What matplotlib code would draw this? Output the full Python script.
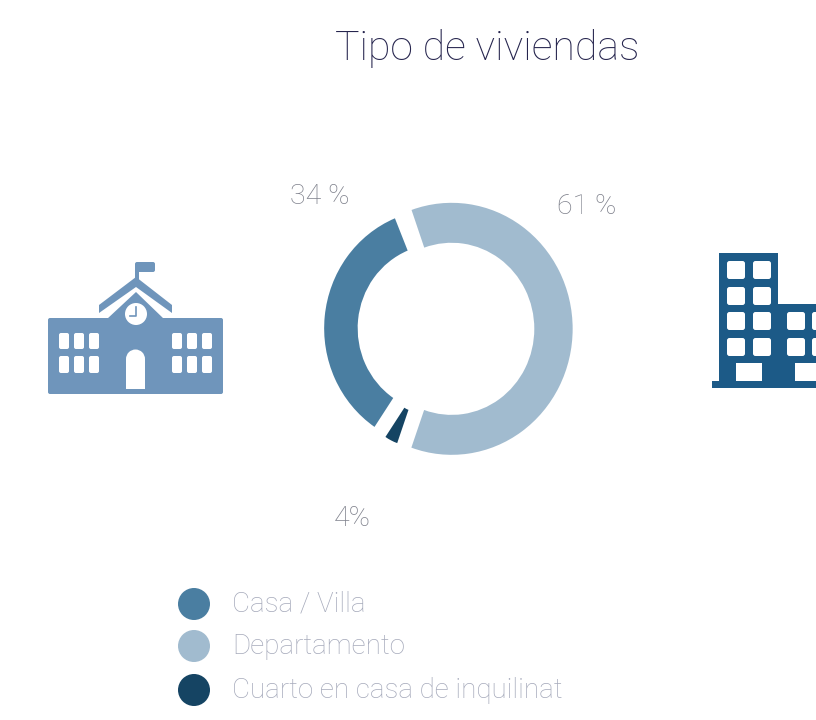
import matplotlib
matplotlib.use('Agg')
from matplotlib import pyplot as plt
import matplotlib.patches as mpatches

categories = ['Casa / Villa', 'Departamento', 'Cuarto en casa de inquilinat']
values = [34, 61, 4]
value_labels = ['34 %', '61 %', '4%']
colors = ['#4A7EA1', '#A1BBCF', '#154463']
title = 'Tipo de viviendas'

plt.rcParams['font.family'] = ['Roboto', 'DejaVu Sans']
plt.rcParams['font.weight'] = 'light'

fig = plt.figure(figsize=(8.16, 7.2), dpi=100)

# overlay in pixel coordinates for text and icons
bg = fig.add_axes([0, 0, 1, 1])
bg.set_xlim(0, 816)
bg.set_ylim(720, 0)
bg.axis('off')

# donut, slightly squeezed horizontally like the original
ax = fig.add_axes([(445 - 181.5) / 816, (720 - 329 - 189) / 720, 363 / 816, 378 / 720])
wedges, _ = ax.pie(values, colors=colors, startangle=236, counterclock=False,
                   explode=[0.055, 0.055, 0.56], radius=1.0)
radii = [(0.944, 0.277), (1.0, 0.317), (0.43, 0.28)]
for w, (r, width) in zip(wedges, radii):
    w.set_radius(r)
    w.set_width(width)
# wider gap above the light slice
wedges[1].set_theta2(wedges[1].theta2 - 3)
ax.set_aspect('auto')
ax.set_xlim(-1.5, 1.5)
ax.set_ylim(-1.5, 1.5)
ax.patch.set_alpha(0)

# title and value labels
bg.text(487, 48, title, color='#26254E', fontsize=29.5, ha='center', va='center')
label_pos = [(320, 197), (587, 207), (352, 519)]
for txt, (x, y) in zip(value_labels, label_pos):
    bg.text(x, y, txt, color='#7F818C', fontsize=20.5, ha='center', va='center')

# legend
legend_y = [604, 646, 690]
for name, col, y in zip(categories, colors, legend_y):
    bg.add_patch(mpatches.Circle((194, y), 16, color=col, lw=0))
    bg.text(232, y, name, color='#A6AABB', fontsize=20, ha='left', va='center')

# school icon
school = '#6F95BB'
bg.add_patch(mpatches.FancyBboxPatch((48, 318), 175, 76, boxstyle='round,pad=0,rounding_size=2', color=school, lw=0))
bg.add_patch(mpatches.Polygon([(107, 319), (136, 292), (164, 319)], color=school, lw=0))
bg.add_patch(mpatches.Polygon([(99, 305), (136, 277), (172, 305), (172, 313), (136, 287), (99, 313)],
                              color=school, lw=0, joinstyle='round'))
bg.add_patch(mpatches.FancyBboxPatch((135, 262), 20, 10, boxstyle='round,pad=0,rounding_size=2', color=school, lw=0))
bg.add_patch(mpatches.Polygon([(135, 264), (139, 264), (139, 280), (135, 280)], color=school, lw=0))
for x in [59, 74, 89, 172, 187, 202]:
    for y, h in [(333, 16), (356, 17)]:
        bg.add_patch(mpatches.FancyBboxPatch((x, y), 10, h, boxstyle='round,pad=0,rounding_size=2', color='white', lw=0))
bg.add_patch(mpatches.Rectangle((126, 359), 19, 30, color='white', lw=0))
bg.add_patch(mpatches.Circle((135.5, 359), 9.5, color='white', lw=0))
bg.add_patch(mpatches.Circle((136, 314), 11, color='white', lw=0))
bg.plot([136, 136, 130], [307, 316, 316], color=school, lw=1.2)

# apartment icon, cut by the right edge
block = '#1C5A87'
bg.add_patch(mpatches.Rectangle((719, 253), 59, 130, color=block, lw=0))
bg.add_patch(mpatches.Rectangle((778, 304), 40, 79, color=block, lw=0))
bg.add_patch(mpatches.Rectangle((712, 381), 106, 7, color=block, lw=0))
for x in [727, 753]:
    for y in [261, 287, 312, 338]:
        bg.add_patch(mpatches.FancyBboxPatch((x, y), 18, 18, boxstyle='round,pad=0,rounding_size=2.5', color='white', lw=0))
for x in [787, 812]:
    for y in [312, 338]:
        bg.add_patch(mpatches.FancyBboxPatch((x, y), 18, 18, boxstyle='round,pad=0,rounding_size=2.5', color='white', lw=0))
bg.add_patch(mpatches.Rectangle((736, 363), 26, 18, color='white', lw=0))
bg.add_patch(mpatches.Rectangle((795, 363), 26, 18, color='white', lw=0))

fig.savefig('out.png', dpi=100)
